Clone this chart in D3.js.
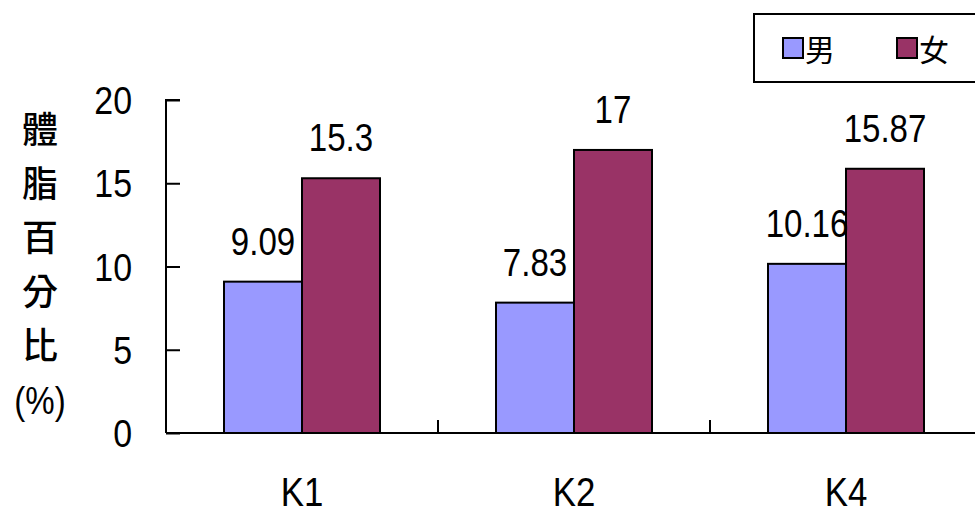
<!DOCTYPE html>
<html>
<head>
<meta charset="utf-8">
<script src="https://cdn.jsdelivr.net/npm/d3@7"></script>
<style>
  html, body { margin: 0; padding: 0; background: #fff; }
  svg { display: block; }
  text { font-family: "Liberation Sans", Arial, sans-serif; fill: #000; }
  .cjk { font-family: "Noto Sans CJK TC", "Noto Sans CJK SC", sans-serif; }
</style>
</head>
<body>
<svg id="chart" width="975" height="515"></svg>
<script>
// Body-fat percentage by group and sex
const categories = ["K1", "K2", "K4"];
const seriesNames = ["男", "女"];
const maleValues = [9.09, 7.83, 10.16];
const femaleValues = [15.3, 17, 15.87];
const yTicks = [0, 5, 10, 15, 20];
const yLabelChars = ["體", "脂", "百", "分", "比"];

const colors = ["#9999FF", "#993366"];
const squeeze = 0.87; // narrow Latin lettering

const svg = d3.select("#chart");

const plot = { left: 166, right: 982, top: 100, bottom: 433 };

const x = d3.scaleBand().domain(categories).range([plot.left, plot.right]).paddingInner(0).paddingOuter(0);
const groupWidth = 156;
const xs = d3.scaleBand().domain(seriesNames).range([0, groupWidth]).padding(0);
const y = d3.scaleLinear().domain([0, 20]).range([plot.bottom, plot.top]);

// narrow text helper
function ntext(sel, px, py, str, size, anchor) {
  return sel.append("text")
    .attr("transform", `translate(${px},${py}) scale(${squeeze},1)`)
    .attr("text-anchor", anchor || "middle")
    .attr("font-size", size)
    .text(str);
}

// Bars
const rows = categories.map((c, i) => ({ cat: c, vals: [maleValues[i], femaleValues[i]] }));
const groups = svg.append("g").selectAll("g").data(rows).join("g")
  .attr("transform", d => `translate(${x(d.cat) + x.bandwidth() / 2 - groupWidth / 2},0)`);

groups.selectAll("rect").data(d => d.vals.map((v, j) => ({ v, j })))
  .join("rect")
  .attr("x", d => xs(seriesNames[d.j]))
  .attr("y", d => y(d.v))
  .attr("width", xs.bandwidth())
  .attr("height", d => y(0) - y(d.v))
  .attr("fill", d => colors[d.j])
  .attr("stroke", "#000")
  .attr("stroke-width", 2);

// Value labels
groups.each(function (d) {
  const g = d3.select(this);
  d.vals.forEach((v, j) => {
    ntext(g, xs(seriesNames[j]) + xs.bandwidth() / 2, y(v) - 27, String(v), 38, "middle");
  });
});

// Y axis (ticks pointing into the plot)
const yAxis = svg.append("g").attr("transform", `translate(${plot.left},0)`)
  .call(d3.axisRight(y).tickValues(yTicks).tickSize(14).tickFormat(""));
yAxis.select(".domain").attr("d", `M14,${plot.top}H0V${plot.bottom}`);
yAxis.selectAll("line, path").attr("stroke", "#000").attr("stroke-width", 2);

yTicks.forEach(t => {
  ntext(svg, 132, y(t) + 14, String(t), 39, "end");
});

// X axis (ticks pointing up, at band boundaries)
const xAxis = svg.append("g").attr("transform", `translate(0,${plot.bottom})`);
xAxis.append("line").attr("x1", plot.left).attr("x2", plot.right)
  .attr("stroke", "#000").attr("stroke-width", 2);
xAxis.selectAll("line.tick").data(categories.slice(1)).join("line")
  .attr("class", "tick")
  .attr("x1", d => x(d)).attr("x2", d => x(d))
  .attr("y1", 0).attr("y2", -13)
  .attr("stroke", "#000").attr("stroke-width", 2);

categories.forEach(c => {
  ntext(svg, x(c) + x.bandwidth() / 2, 506, c, 40, "middle");
});

// Y axis title, stacked vertically
yLabelChars.forEach((ch, i) => {
  svg.append("text").attr("class", "cjk")
    .attr("x", 40).attr("y", 127 + i * 54)
    .attr("text-anchor", "middle").attr("dominant-baseline", "central")
    .attr("font-size", 36).attr("font-weight", 500).text(ch);
});
ntext(svg, 40, 414, "(%)", 38, "middle");

// Legend
const legend = svg.append("g");
legend.append("rect").attr("x", 754).attr("y", 14).attr("width", 240).attr("height", 68)
  .attr("fill", "#fff").attr("stroke", "#000").attr("stroke-width", 2);
const legendX = [783, 897];
seriesNames.forEach((s, j) => {
  legend.append("rect").attr("x", legendX[j]).attr("y", 38).attr("width", 20).attr("height", 20)
    .attr("fill", colors[j]).attr("stroke", "#000").attr("stroke-width", 2);
  legend.append("text").attr("class", "cjk")
    .attr("x", legendX[j] + 22).attr("y", 48)
    .attr("dominant-baseline", "central")
    .attr("font-size", 30).text(s);
});
</script>
</body>
</html>
